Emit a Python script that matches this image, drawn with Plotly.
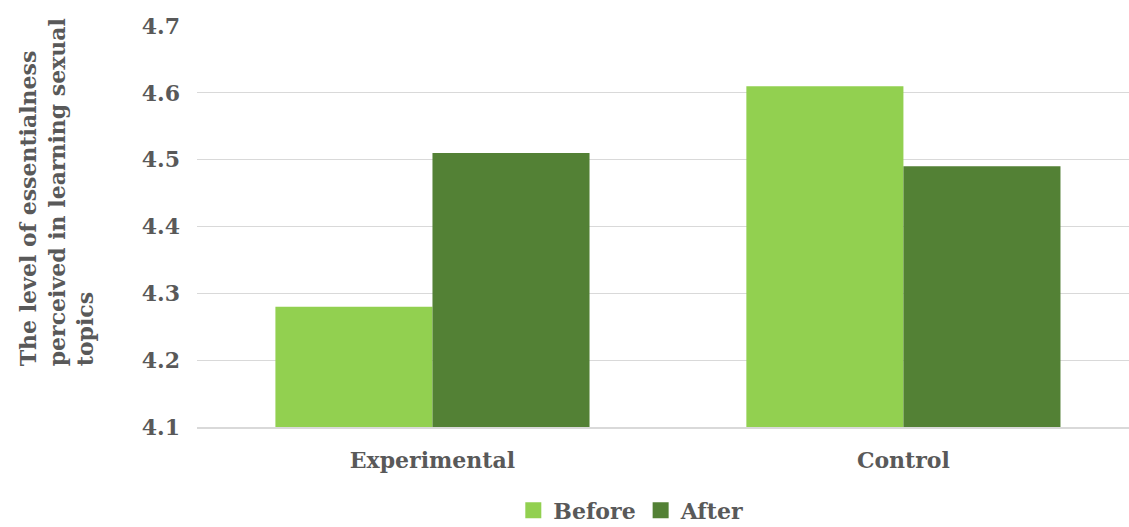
import plotly.graph_objects as go

# Group means by phase
groups = ["Experimental", "Control"]
before = [4.28, 4.61]
after = [4.51, 4.49]
y_ticks = [4.1, 4.2, 4.3, 4.4, 4.5, 4.6, 4.7]
y_title = "The level of essentialness<br>perceived in learning sexual<br>topics"

FONT = "DejaVu Serif"
TEXT_COLOR = "#595959"
GRID = "#D9D9D9"
BEFORE_COLOR = "#92D050"
AFTER_COLOR = "#538135"

fig = go.Figure()
fig.add_trace(go.Bar(name="Before", x=groups, y=before, showlegend=False,
                     marker=dict(color=BEFORE_COLOR, line=dict(width=0))))
fig.add_trace(go.Bar(name="After", x=groups, y=after, showlegend=False,
                     marker=dict(color=AFTER_COLOR, line=dict(width=0))))

# legend entries with larger square swatches
for name, color in [("Before", BEFORE_COLOR), ("After", AFTER_COLOR)]:
    fig.add_trace(go.Scatter(name=name, x=[None], y=[None], mode="markers",
                             marker=dict(symbol="square", size=18, color=color)))

fig.update_layout(
    width=1129, height=527,
    margin=dict(l=197, r=0, t=26, b=100, autoexpand=False),
    paper_bgcolor="white", plot_bgcolor="white",
    barmode="group", bargap=0.333, bargroupgap=0,
    font=dict(family=FONT, size=22, color=TEXT_COLOR, weight="bold"),
    showlegend=True,
    legend=dict(orientation="h", x=0.466, xanchor="center", y=-0.208, yanchor="middle",
                font=dict(family=FONT, size=22, color=TEXT_COLOR, weight="bold"),
                itemsizing="trace", traceorder="normal", itemwidth=30),
    xaxis=dict(range=[-0.5, 1.479], showgrid=False, ticks="",
               showline=True, linecolor=GRID, linewidth=1.5,
               tickfont=dict(family=FONT, size=22, color=TEXT_COLOR, weight="bold"),
               ticklabelstandoff=13),
    yaxis=dict(range=[4.1, 4.7], tickvals=y_ticks, tickformat=".1f",
               showgrid=True, gridcolor=GRID, gridwidth=1, zeroline=False,
               showline=False, ticks="",
               tickfont=dict(family=FONT, size=22, color=TEXT_COLOR, weight="bold"),
               ticklabelstandoff=16),
)

fig.add_annotation(
    text=y_title, textangle=-90, align="left",
    xref="paper", yref="paper", x=-0.151, y=0.586,
    xanchor="center", yanchor="middle", showarrow=False,
    font=dict(family=FONT, size=22, color=TEXT_COLOR, weight="bold"),
)

fig.write_html("out.html")
